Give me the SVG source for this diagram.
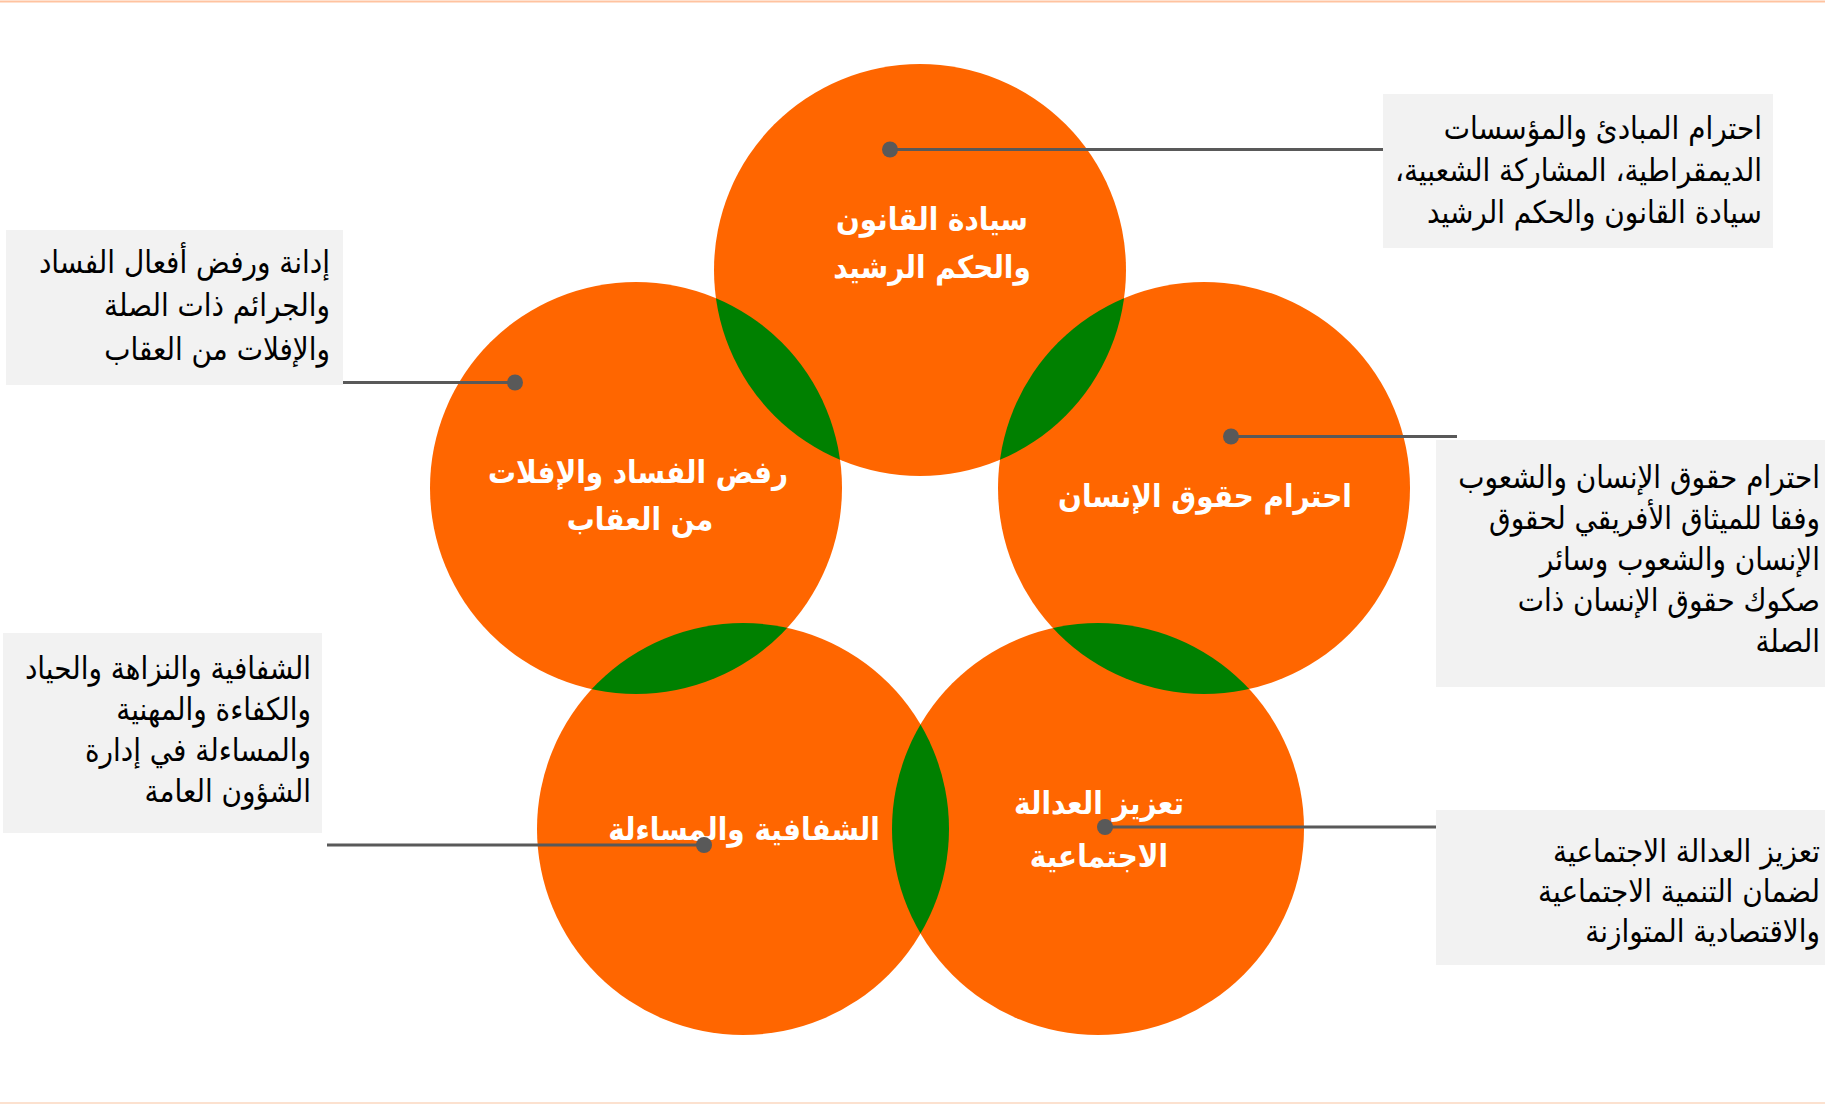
<svg xmlns="http://www.w3.org/2000/svg" width="1825" height="1104" viewBox="0 0 1825 1104">
<style>
.c{fill:#FF6600}
.l{fill:#008000}
.lbl{font-family:"DejaVu Sans Condensed","DejaVu Sans",sans-serif;font-weight:bold;font-size:31px;fill:#FFFFFF;text-anchor:middle;direction:rtl}
.box{fill:#F2F2F2}
.bt{font-family:"DejaVu Sans Condensed","DejaVu Sans",sans-serif;font-size:31px;fill:#000000;direction:rtl;text-anchor:start}
.ln{stroke:#595959;stroke-width:3;fill:none}
.dot{fill:#595959}
</style>
<defs>
<clipPath id="cT"><circle cx="920" cy="270" r="206"/></clipPath>
<clipPath id="cL"><circle cx="636" cy="488" r="206"/></clipPath>
<clipPath id="cR"><circle cx="1204" cy="488" r="206"/></clipPath>
<clipPath id="cBL"><circle cx="743" cy="829" r="206"/></clipPath>
</defs>
<rect width="1825" height="1104" fill="#FFFFFF"/>
<line x1="0" y1="1.5" x2="1825" y2="1.5" stroke="#FFC3A0" stroke-width="2"/>
<line x1="0" y1="1103" x2="1825" y2="1103" stroke="#FCE1CF" stroke-width="2"/>

<g id="node-top"><circle class="c" cx="920" cy="270" r="206"/></g>
<g id="node-left"><circle class="c" cx="636" cy="488" r="206"/></g>
<g id="node-right"><circle class="c" cx="1204" cy="488" r="206"/></g>
<g id="node-bottom-left"><circle class="c" cx="743" cy="829" r="206"/></g>
<g id="node-bottom-right"><circle class="c" cx="1098" cy="829" r="206"/></g>

<g id="overlaps">
<circle class="l" cx="636" cy="488" r="206" clip-path="url(#cT)"/>
<circle class="l" cx="1204" cy="488" r="206" clip-path="url(#cT)"/>
<circle class="l" cx="743" cy="829" r="206" clip-path="url(#cL)"/>
<circle class="l" cx="1098" cy="829" r="206" clip-path="url(#cR)"/>
<circle class="l" cx="1098" cy="829" r="206" clip-path="url(#cBL)"/>
</g>

<g id="labels">
<text class="lbl" x="932" y="230">سيادة القانون</text>
<text class="lbl" x="932" y="278">والحكم الرشيد</text>
<text class="lbl" x="638" y="483">رفض الفساد والإفلات</text>
<text class="lbl" x="640" y="530">من العقاب</text>
<text class="lbl" x="1205" y="507">احترام حقوق الإنسان</text>
<text class="lbl" x="744" y="840">الشفافية والمساءلة</text>
<text class="lbl" x="1099" y="814">تعزيز العدالة</text>
<text class="lbl" x="1099" y="867">الاجتماعية</text>
</g>

<g id="box-top-right">
<rect class="box" x="1383" y="94" width="390" height="154"/>
<text class="bt" x="1762" y="139">احترام المبادئ  والمؤسسات</text>
<text class="bt" x="1762" y="181">الديمقراطية، المشاركة الشعبية،</text>
<text class="bt" x="1762" y="223">سيادة القانون والحكم الرشيد</text>
</g>
<g id="box-top-left">
<rect class="box" x="6" y="230" width="337" height="155"/>
<text class="bt" x="330" y="273">إدانة ورفض أفعال الفساد</text>
<text class="bt" x="330" y="316">والجرائم ذات الصلة</text>
<text class="bt" x="330" y="360">والإفلات من العقاب</text>
</g>
<g id="box-right">
<rect class="box" x="1436" y="440" width="389" height="247"/>
<text class="bt" x="1820" y="488">احترام حقوق الإنسان والشعوب</text>
<text class="bt" x="1820" y="529">وفقا للميثاق الأفريقي لحقوق</text>
<text class="bt" x="1820" y="570">الإنسان والشعوب وسائر</text>
<text class="bt" x="1820" y="611">صكوك حقوق الإنسان ذات</text>
<text class="bt" x="1820" y="652">الصلة</text>
</g>
<g id="box-bottom-left">
<rect class="box" x="3" y="633" width="319" height="200"/>
<text class="bt" x="311" y="679">الشفافية والنزاهة والحياد</text>
<text class="bt" x="311" y="720">والكفاءة والمهنية</text>
<text class="bt" x="311" y="761">والمساءلة في إدارة</text>
<text class="bt" x="311" y="802">الشؤون العامة</text>
</g>
<g id="box-bottom-right">
<rect class="box" x="1436" y="810" width="389" height="155"/>
<text class="bt" x="1820" y="862">تعزيز العدالة الاجتماعية</text>
<text class="bt" x="1820" y="902">لضمان التنمية الاجتماعية</text>
<text class="bt" x="1820" y="942">والاقتصادية المتوازنة</text>
</g>

<g id="connectors">
<line class="ln" x1="890" y1="149.5" x2="1383" y2="149.5"/>
<circle class="dot" cx="890" cy="149.5" r="8"/>
<line class="ln" x1="343" y1="382.5" x2="515" y2="382.5"/>
<circle class="dot" cx="515" cy="382.5" r="8"/>
<line class="ln" x1="1231" y1="436.5" x2="1457" y2="436.5"/>
<circle class="dot" cx="1231" cy="436.5" r="8"/>
<line class="ln" x1="327" y1="845" x2="704" y2="845"/>
<circle class="dot" cx="704" cy="845" r="8"/>
<line class="ln" x1="1105" y1="827" x2="1436" y2="827"/>
<circle class="dot" cx="1105" cy="827" r="8"/>
</g>
</svg>
